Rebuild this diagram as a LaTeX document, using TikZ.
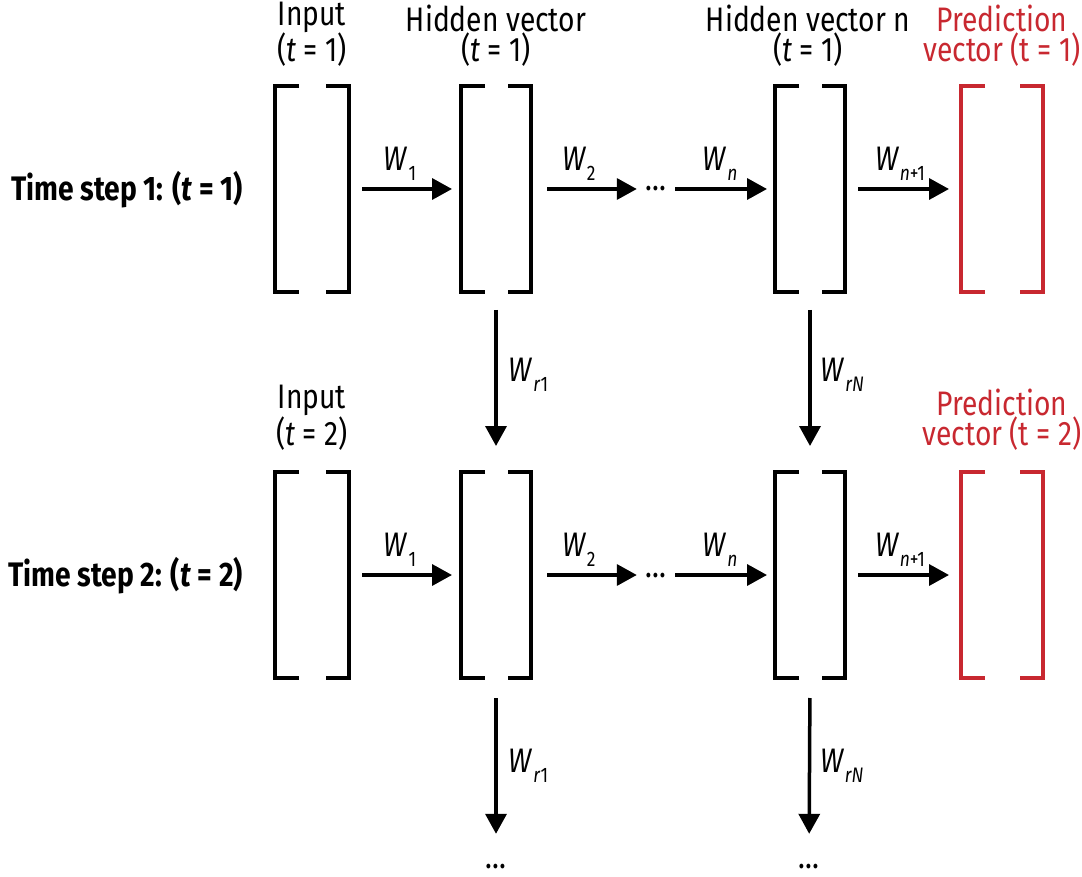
\documentclass[tikz,border=0pt]{standalone}
\usepackage{fontspec}
\setmainfont[FakeStretch=0.83]{Fira Sans}
\usetikzlibrary{arrows.meta}
\definecolor{predred}{RGB}{200,40,48}
\newcommand\Wsub[1]{\textit{W}\kern0.5pt\raisebox{-10pt}{\fontsize{21}{21}\selectfont #1}}
\newcommand\drawvec[2]{%
  \draw[brk,#2] ([xshift=24pt]#1.north west) -- (#1.north west) -- (#1.south west) -- ([xshift=24pt]#1.south west);
  \draw[brk,#2] ([xshift=-23pt]#1.north east) -- (#1.north east) -- (#1.south east) -- ([xshift=-23pt]#1.south east);}
\begin{document}
\begin{tikzpicture}[x=1pt,y=-1pt,
  vec/.style={minimum width=#1, minimum height=206pt, inner sep=0pt, outer sep=0pt},
  brk/.style={line width=3.5pt},
  arr/.style={line width=3.5pt, -{Triangle[length=20pt,width=21pt]}},
  txt/.style={font=\fontsize{34}{30}\selectfont, inner sep=0pt, align=center, anchor=base},
  lab/.style={font=\fontsize{34}{30}\selectfont, inner sep=0pt},
  dotsn/.style={font=\fontsize{34}{30}\selectfont, inner sep=0pt, text height=4pt, text depth=0pt},
]
\useasboundingbox (0,0) rectangle (1082,877);
% vectors row 1
\node[vec=74pt] (a1) at (312,189) {};
\node[vec=70pt] (h1) at (496,189) {};
\node[vec=70pt] (n1) at (810,189) {};
\node[vec=82pt] (p1) at (1002,189) {};
% vectors row 2
\node[vec=74pt] (a2) at (312,575) {};
\node[vec=70pt] (h2) at (496,575) {};
\node[vec=70pt] (n2) at (810,575) {};
\node[vec=82pt] (p2) at (1002,575) {};
\drawvec{a1}{black}\drawvec{h1}{black}\drawvec{n1}{black}\drawvec{p1}{predred}
\drawvec{a2}{black}\drawvec{h2}{black}\drawvec{n2}{black}\drawvec{p2}{predred}
% top labels (base = last line)
\node[txt] (la1) at (312,62) {Input\\(\textit{t} = 1)};
\node[txt] (lh1) at (496,62) {Hidden vector\\(\textit{t} = 1)};
\node[txt] (ln1) at (808,62) {Hidden vector n\\(\textit{t} = 1)};
\node[txt, text=predred] (lp1) at (1002,62) {Prediction\\vector (t = 1)};
\node[txt] (la2) at (312,445) {Input\\(\textit{t} = 2)};
\node[txt, text=predred] (lp2) at (1002,445) {Prediction\\vector (t = 2)};
% time step labels
\node[lab, font=\fontsize{34}{30}\selectfont\bfseries, anchor=base east] (ts1) at (243,201) {Time step 1: (\textit{t} = 1)};
\node[lab, font=\fontsize{34}{30}\selectfont\bfseries, anchor=base east] (ts2) at (243,586) {Time step 2: (\textit{t} = 2)};
% middle dots
\node[dotsn, minimum width=38pt, anchor=base] (m1) at (656,191) {…};
\node[dotsn, minimum width=38pt, anchor=base] (m2) at (656,577) {…};
% bottom dots
\node[dotsn, anchor=base] (bd1) at (496,868) {…};
\node[dotsn, anchor=base] (bd2) at (809,868) {…};
% row 1 horizontal arrows
\draw[arr, shorten <=13pt, shorten >=9pt] (a1.east) -- (h1.west) node[lab, midway, above=7pt, xshift=-5pt] {\Wsub{1}};
\draw[arr, shorten <=16pt] (h1.east) -- (m1.west) node[lab, midway, above=7pt, xshift=-5pt] {\Wsub{2}};
\draw[arr, shorten >=8pt] (m1.east) -- (n1.west) node[lab, midway, above=7pt, xshift=-5pt] {\Wsub{\textit{n}}};
\draw[arr, shorten <=13pt, shorten >=12pt] (n1.east) -- (p1.west) node[lab, midway, above=7pt, xshift=-3pt] {\Wsub{\textit{n}+1}};
% row 2 horizontal arrows
\draw[arr, shorten <=13pt, shorten >=9pt] (a2.east) -- (h2.west) node[lab, midway, above=7pt, xshift=-5pt] {\Wsub{1}};
\draw[arr, shorten <=16pt] (h2.east) -- (m2.west) node[lab, midway, above=7pt, xshift=-5pt] {\Wsub{2}};
\draw[arr, shorten >=8pt] (m2.east) -- (n2.west) node[lab, midway, above=7pt, xshift=-5pt] {\Wsub{\textit{n}}};
\draw[arr, shorten <=13pt, shorten >=12pt] (n2.east) -- (p2.west) node[lab, midway, above=7pt, xshift=-3pt] {\Wsub{\textit{n}+1}};
% vertical arrows
\draw[arr, shorten <=18pt, shorten >=26pt] (h1.south) -- (h2.north) node[lab, pos=0.46, right=11pt] {\Wsub{\textit{r}1}};
\draw[arr, shorten <=18pt, shorten >=26pt] (n1.south) -- (n2.north) node[lab, pos=0.46, right=9pt] {\Wsub{\textit{rN}}};
\draw[arr, shorten <=20pt, shorten >=30pt] (h2.south) -- (bd1.north) node[lab, pos=0.47, right=11pt] {\Wsub{\textit{r}1}};
\draw[arr, shorten <=20pt, shorten >=30pt] (n2.south) -- (bd2.north) node[lab, pos=0.47, right=9pt] {\Wsub{\textit{rN}}};
\end{tikzpicture}
\end{document}
